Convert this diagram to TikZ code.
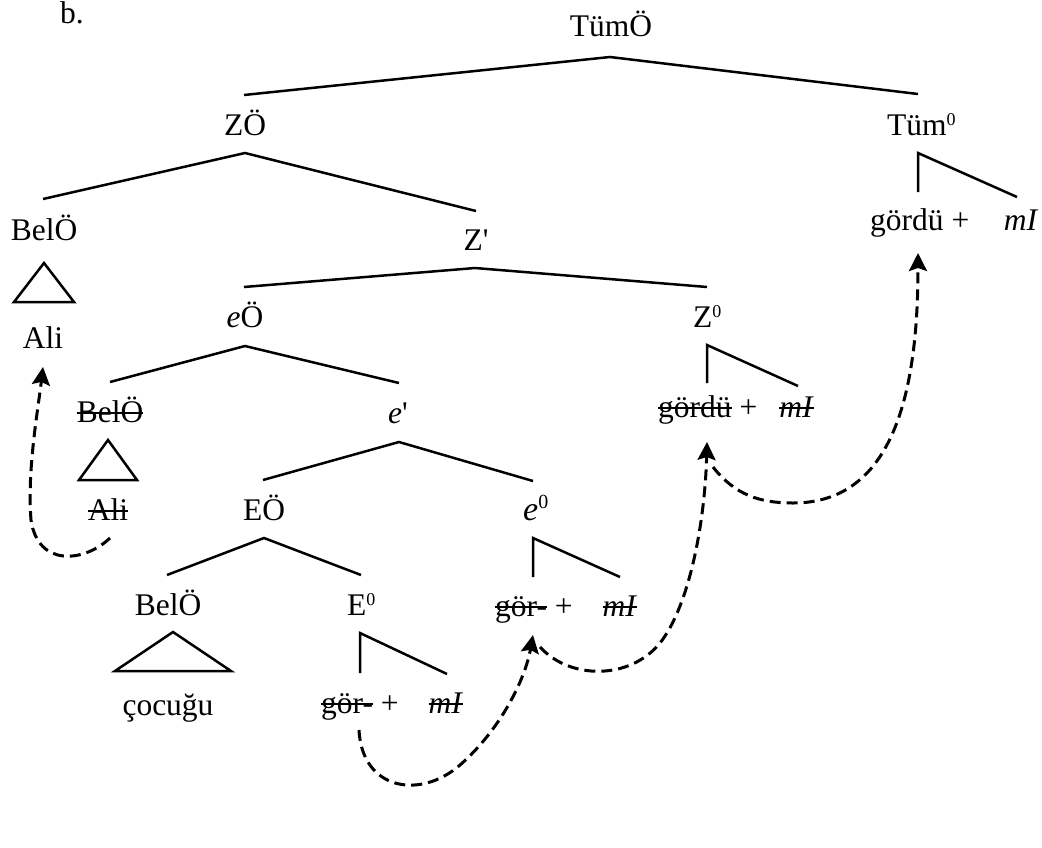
\documentclass[tikz,border=0pt]{standalone}
\usepackage{fontspec}
\setmainfont{Liberation Serif}
\usetikzlibrary{arrows.meta}
\newcommand{\zsup}{\raisebox{10pt}{\fontsize{18}{18}\selectfont 0}}
\newsavebox{\stkbox}
\newcommand{\stk}[1]{\sbox{\stkbox}{#1}\rlap{\usebox{\stkbox}}\rule[0.25em]{\wd\stkbox}{2.3pt}}
\tikzset{
  lbl/.style={anchor=base, inner sep=0pt, font=\fontsize{31.5}{36}\selectfont},
  lblw/.style={lbl, anchor=base west},
  branch/.style={line width=2.5pt, line join=miter},
  move/.style={line width=3pt, dash pattern=on 11pt off 6pt,
    -{Stealth[length=18pt,width=18pt,inset=3pt]}}
}
\begin{document}
\begin{tikzpicture}[x=1pt,y=-1pt]
\useasboundingbox (0,0) rectangle (1042,847);
% labels
\node[lblw] (b) at (60,23) {b.};
\node[lbl] (tumO) at (611,36) {TümÖ};
\node[lbl] (ZO) at (245,135) {ZÖ};
\node[lblw] (tum0) at (887,135) {Tüm\zsup};
\node[lbl] (belO1) at (44,240) {BelÖ};
\node[lbl] (Zbar) at (476,250) {Z\textquotesingle};
\node[lblw] (gordT) at (870,230) {gördü +\hspace{1.1em}\textit{mI}};
\node[lbl] (ali1) at (43,348) {Ali};
\node[lbl] (eO) at (245,327) {\textit{e}Ö};
\node[lblw] (Z0) at (693,327) {Z\zsup};
\node[lblw] (gordZ) at (658,417) {\stk{gördü} +\hspace{0.7em}\stk{\textit{mI}}};
\node[lbl] (belO2) at (110,422) {\stk{BelÖ}};
\node[lbl] (ebar) at (398,423) {\textit{e}\textquotesingle};
\node[lbl] (ali2) at (108,520) {\stk{Ali}};
\node[lbl] (EO) at (264,520) {EÖ};
\node[lblw] (e0) at (523,520) {{\fontsize{34}{34}\selectfont\textit{e}}\raisebox{12pt}{\fontsize{20}{20}\selectfont 0}};
\node[lbl] (belO3) at (168,615) {BelÖ};
\node[lblw] (E0) at (347,615) {E\zsup};
\node[lblw] (gorA) at (495,616) {\stk{gör-} +\hspace{0.95em}\stk{\textit{mI}}};
\node[lbl] (cocugu) at (168,715) {çocuğu};
\node[lblw] (gorB) at (321,713) {\stk{gör-} +\hspace{0.95em}\stk{\textit{mI}}};
% branch points
\coordinate (tumO-a) at (610,57);
\coordinate (tumO-l) at (244,95);
\coordinate (tumO-r) at (918,94);
\coordinate (ZO-a) at (245,153);
\coordinate (ZO-l) at (43,199);
\coordinate (ZO-r) at (476,211);
\coordinate (Zbar-a) at (475,268);
\coordinate (Zbar-l) at (244,287);
\coordinate (Zbar-r) at (707,287);
\coordinate (tum0-a) at (918,153);
\coordinate (tum0-l) at (918,192);
\coordinate (tum0-r) at (1017,197);
\coordinate (belO1-a) at (44,263);
\coordinate (belO1-l) at (14,302);
\coordinate (belO1-r) at (74,302);
\coordinate (eO-a) at (245,346);
\coordinate (eO-l) at (110,382);
\coordinate (eO-r) at (399,383);
\coordinate (Z0-a) at (707,345);
\coordinate (Z0-l) at (707,383);
\coordinate (Z0-r) at (798,386);
\coordinate (belO2-a) at (108,440);
\coordinate (belO2-l) at (79,480);
\coordinate (belO2-r) at (137,480);
\coordinate (ebar-a) at (399,442);
\coordinate (ebar-l) at (263,480);
\coordinate (ebar-r) at (533,481);
\coordinate (EO-a) at (264,538);
\coordinate (EO-l) at (167,575);
\coordinate (EO-r) at (361,575);
\coordinate (e0-a) at (533,538);
\coordinate (e0-l) at (533,577);
\coordinate (e0-r) at (620,577);
\coordinate (belO3-a) at (173,632);
\coordinate (belO3-l) at (115,671);
\coordinate (belO3-r) at (231,671);
\coordinate (E0-a) at (360,633);
\coordinate (E0-l) at (360,673);
\coordinate (E0-r) at (447,674);
% branches
\draw[branch] (tumO-l) -- (tumO-a) -- (tumO-r);
\draw[branch] (ZO-l) -- (ZO-a) -- (ZO-r);
\draw[branch] (Zbar-l) -- (Zbar-a) -- (Zbar-r);
\draw[branch] (tum0-l) -- (tum0-a) -- (tum0-r);
\draw[branch] (belO1-l) -- (belO1-a) -- (belO1-r) -- cycle;
\draw[branch] (eO-l) -- (eO-a) -- (eO-r);
\draw[branch] (Z0-l) -- (Z0-a) -- (Z0-r);
\draw[branch] (belO2-l) -- (belO2-a) -- (belO2-r) -- cycle;
\draw[branch] (ebar-l) -- (ebar-a) -- (ebar-r);
\draw[branch] (EO-l) -- (EO-a) -- (EO-r);
\draw[branch] (e0-l) -- (e0-a) -- (e0-r);
\draw[branch] (belO3-l) -- (belO3-a) -- (belO3-r) -- cycle;
\draw[branch] (E0-l) -- (E0-a) -- (E0-r);
% movement arrows
\coordinate (ali2-s) at (110,538);
\coordinate (ali1-t) at (43,367);
\coordinate (gorB-s) at (359,730);
\coordinate (gorA-t) at (533,635);
\coordinate (gorA-s) at (540,647);
\coordinate (gordZ-t) at (707,442);
\coordinate (gordZ-s) at (713,467);
\coordinate (gordT-t) at (918,253);
\draw[move] (ali2-s) .. controls (85,562) and (38,568) .. (31,520)
  .. controls (27,470) and (38,410) .. (ali1-t);
\draw[move] (gorB-s) .. controls (362,790) and (420,800) .. (460,765)
  .. controls (500,730) and (525,680) .. (gorA-t);
\draw[move] (gorA-s) .. controls (570,680) and (630,680) .. (660,643)
  .. controls (690,605) and (705,520) .. (gordZ-t);
\draw[move] (gordZ-s) .. controls (735,495) and (760,503) .. (793,503)
  .. controls (890,503) and (918,400) .. (gordT-t);
\end{tikzpicture}
\end{document}
